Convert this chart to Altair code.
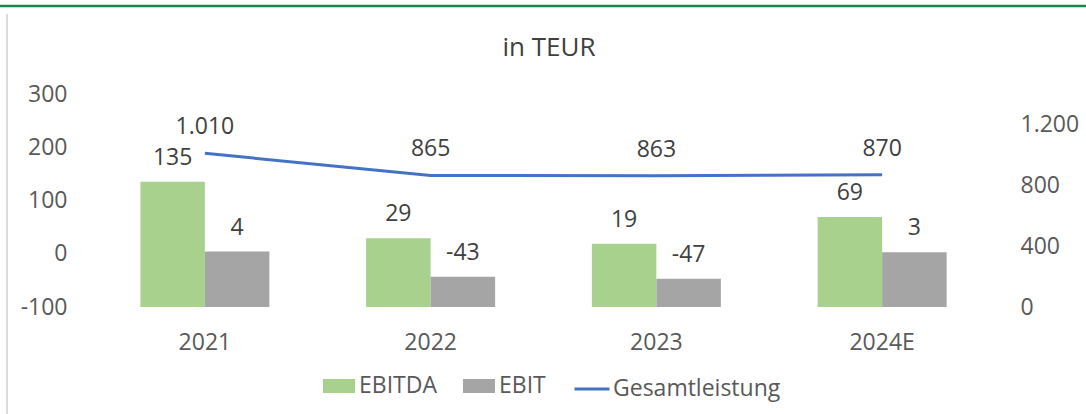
import altair as alt
import pandas as pd

years = ["2021", "2022", "2023", "2024E"]
ebitda = [135, 29, 19, 69]
ebit = [4, -43, -47, 3]
gesamt = [1010, 865, 863, 870]
bar_series = ["EBITDA", "EBIT"]
line_series = ["Gesamtleistung"]
title_text = ["in TEUR"]

bars_df = pd.DataFrame({
    "Jahr": years * 2,
    "Kennzahl": ["EBITDA"] * 4 + ["EBIT"] * 4,
    "Wert": ebitda + ebit,
})
line_df = pd.DataFrame({"Jahr": years, "Kennzahl": line_series * 4, "Wert": gesamt})

FONT = "Open Sans"
FS = 23
AXIS_C = "#595959"
LABEL_C = "#404040"

x = alt.X("Jahr:N", sort=years,
          scale=alt.Scale(paddingInner=0, paddingOuter=0),
          axis=alt.Axis(title=None, labelAngle=0, domain=False, ticks=False,
                        labelFontSize=FS, labelColor=AXIS_C, labelPadding=24,
                        labelFont=FONT))
xoff = alt.XOffset("Kennzahl:N", sort=bar_series,
                   scale=alt.Scale(paddingInner=0, paddingOuter=0.75))

yL = alt.Y("Wert:Q", scale=alt.Scale(domain=[-100, 300], nice=False, zero=False),
           axis=alt.Axis(title=None, values=[-100, 0, 100, 200, 300], domain=False,
                         ticks=False, grid=False, labelFontSize=FS, labelColor=AXIS_C,
                         labelPadding=25, labelFont=FONT,
                         labelExpr="'' + datum.value"))
yR = alt.Y("Wert:Q", scale=alt.Scale(domain=[0, 1400], nice=False),
           axis=alt.Axis(title=None, orient="right", values=[0, 400, 800, 1200],
                         domain=False, ticks=False, grid=False, labelFontSize=FS,
                         labelColor=AXIS_C, labelPadding=25, labelFont=FONT,
                         labelExpr="replace(format(datum.value, ','), ',', '.')"))

bars = alt.Chart(bars_df).mark_bar().encode(
    x=x, xOffset=xoff, y=yL, y2=alt.datum(-100),
    color=alt.Color("Kennzahl:N",
                    scale=alt.Scale(domain=bar_series, range=["#A9D18E", "#A5A5A5"]),
                    legend=alt.Legend(title=None, orient="none", direction="horizontal",
                                      legendX=231, legendY=276, padding=0,
                                      symbolType="M-1,-0.4375H1V0.4375H-1Z",
                                      symbolSize=1024, symbolStrokeWidth=0,
                                      labelFontSize=FS, labelFont=FONT, labelColor=AXIS_C,
                                      labelOffset=4, columnPadding=26, labelLimit=300)),
)
bar_text = alt.Chart(bars_df).transform_calculate(
    lbl="'' + datum.Wert"
).mark_text(dy=-24, fontSize=FS, font=FONT, color=LABEL_C).encode(
    x=x, xOffset=xoff, y=yL, text="lbl:N")

line = alt.Chart(line_df).mark_line(strokeWidth=3).encode(
    x=x, y=yR,
    stroke=alt.Stroke("Kennzahl:N",
                      scale=alt.Scale(domain=line_series, range=["#4472C4"]),
                      legend=alt.Legend(title=None, orient="none", direction="horizontal",
                                        legendX=481, legendY=276, padding=0,
                                        symbolType="stroke", symbolSize=1225,
                                        symbolStrokeWidth=3,
                                        labelFontSize=FS, labelFont=FONT,
                                        labelColor=AXIS_C, labelOffset=2, labelLimit=400)),
)
line_text = alt.Chart(line_df).transform_calculate(
    lbl="replace(format(datum.Wert, ','), ',', '.')"
).mark_text(dy=-26, fontSize=FS, font=FONT, color=LABEL_C).encode(
    x=x, y=yR, text="lbl:N")

title = alt.Chart(pd.DataFrame({"t": title_text})).mark_text(
    fontSize=26, font=FONT, color=LABEL_C, baseline="alphabetic", align="center"
).encode(x=alt.value(457), y=alt.value(-38), text="t:N")

frame_top = alt.Chart(pd.DataFrame({"a": [0]})).mark_rule(
    color="#138A4B", strokeWidth=2.5
).encode(x=alt.value(-92), x2=alt.value(994), y=alt.value(-88))
frame_left = alt.Chart(pd.DataFrame({"a": [0]})).mark_rule(
    color="#D0D0D0", strokeWidth=1.5
).encode(x=alt.value(-85), y=alt.value(-80), y2=alt.value(320))

left = alt.layer(bars, bar_text)
right = alt.layer(line, line_text)

chart = alt.layer(left, right, title, frame_top, frame_left).resolve_scale(
    y="independent"
).properties(
    width=903, height=213,
    autosize=alt.AutoSizeParams(type="none"),
    padding={"left": 92, "top": 94, "right": 91, "bottom": 107},
    background="white",
).configure_view(stroke=None)

chart.save("out.html", embed_options={"renderer": "svg", "actions": False})
